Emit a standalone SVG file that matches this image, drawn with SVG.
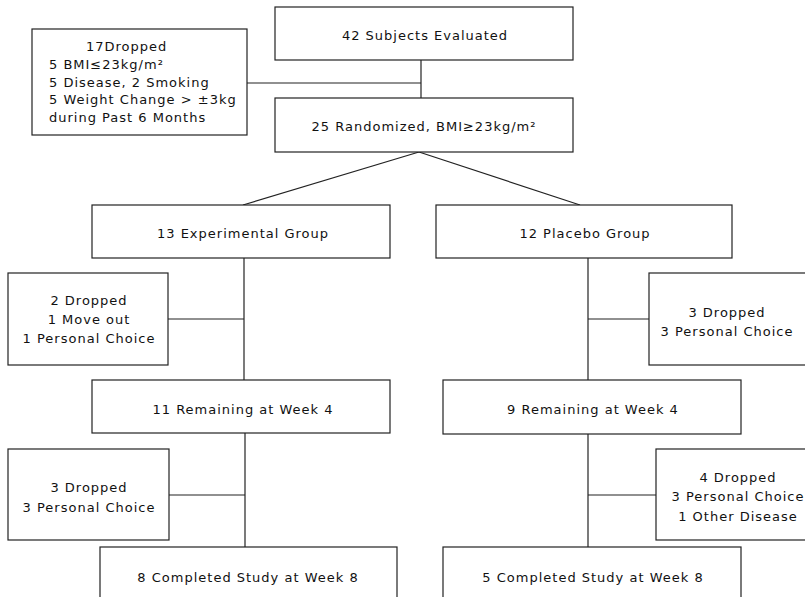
<svg xmlns="http://www.w3.org/2000/svg" width="805" height="597" viewBox="0 0 805 597">
<style>
rect{fill:#fff;stroke:#222;stroke-width:1.2}
text{font-family:"DejaVu Sans","Liberation Sans",sans-serif;font-size:13px;letter-spacing:1px;fill:#111}
.c{text-anchor:middle}
#connectors line{stroke:#222;stroke-width:1.2}
</style>
<rect x="0" y="0" width="805" height="597" style="stroke:none;fill:#fff"/>
<g id="connectors">
<line x1="421" y1="60" x2="421" y2="98"/>
<line x1="247" y1="83" x2="421" y2="83"/>
<line x1="419" y1="152" x2="243" y2="205"/>
<line x1="419" y1="152" x2="580" y2="205"/>
<line x1="244" y1="258" x2="244" y2="380"/>
<line x1="168" y1="319" x2="244" y2="319"/>
<line x1="588" y1="258" x2="588" y2="380"/>
<line x1="588" y1="319" x2="649" y2="319"/>
<line x1="245" y1="433" x2="245" y2="547"/>
<line x1="169" y1="495" x2="245" y2="495"/>
<line x1="588" y1="434" x2="588" y2="547"/>
<line x1="588" y1="495" x2="656" y2="495"/>
</g>
<g id="n42">
<rect x="275" y="7" width="298" height="53"/>
<text class="c" x="425" y="40">42 Subjects Evaluated</text>
</g>
<g id="ndrop17">
<rect x="32" y="29" width="215" height="106"/>
<text x="86" y="51">17Dropped</text>
<text x="49" y="69">5 BMI≤23kg/m²</text>
<text x="49" y="87">5 Disease, 2 Smoking</text>
<text x="49" y="104">5 Weight Change &gt; ±3kg</text>
<text x="49" y="122">during Past 6 Months</text>
</g>
<g id="n25">
<rect x="275" y="98" width="298" height="54"/>
<text class="c" x="424" y="131">25 Randomized, BMI≥23kg/m²</text>
</g>
<g id="nexp">
<rect x="92" y="205" width="298" height="53"/>
<text class="c" x="243" y="238">13 Experimental Group</text>
</g>
<g id="nplac">
<rect x="436" y="205" width="296" height="53"/>
<text class="c" x="585" y="238">12 Placebo Group</text>
</g>
<g id="ndrop2">
<rect x="8" y="273" width="160" height="92"/>
<text class="c" x="89" y="305">2 Dropped</text>
<text class="c" x="89" y="324">1 Move out</text>
<text class="c" x="89" y="343">1 Personal Choice</text>
</g>
<g id="ndrop3p">
<rect x="649" y="273" width="170" height="92"/>
<text class="c" x="727" y="317">3 Dropped</text>
<text class="c" x="727" y="336">3 Personal Choice</text>
</g>
<g id="n11">
<rect x="92" y="380" width="298" height="53"/>
<text class="c" x="243" y="414">11 Remaining at Week 4</text>
</g>
<g id="n9">
<rect x="443" y="380" width="298" height="54"/>
<text class="c" x="593" y="414">9 Remaining at Week 4</text>
</g>
<g id="ndrop3e">
<rect x="8" y="449" width="161" height="91"/>
<text class="c" x="89" y="492">3 Dropped</text>
<text class="c" x="89" y="512">3 Personal Choice</text>
</g>
<g id="ndrop4">
<rect x="656" y="449" width="170" height="91"/>
<text class="c" x="738" y="482">4 Dropped</text>
<text class="c" x="738" y="501">3 Personal Choice</text>
<text class="c" x="738" y="521">1 Other Disease</text>
</g>
<g id="n8">
<rect x="100" y="547" width="297" height="60"/>
<text class="c" x="248" y="582">8 Completed Study at Week 8</text>
</g>
<g id="n5">
<rect x="443" y="547" width="298" height="60"/>
<text class="c" x="593" y="582">5 Completed Study at Week 8</text>
</g>
</svg>
